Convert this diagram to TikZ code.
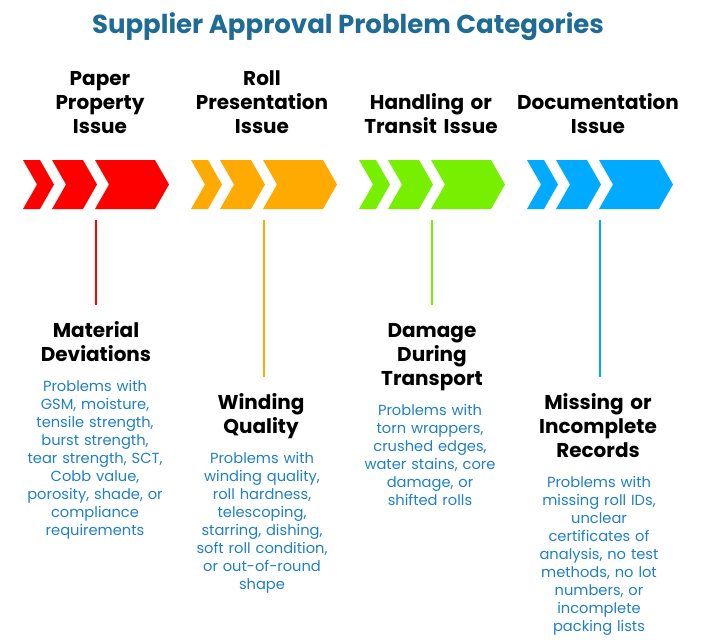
\documentclass[tikz,border=0pt]{standalone}
\usepackage{fontspec}
\setmainfont{Poppins}
\definecolor{cR}{HTML}{FF0000}
\definecolor{cO}{HTML}{FFAA00}
\definecolor{cG}{HTML}{77F000}
\definecolor{cB}{HTML}{00AAFF}
\definecolor{ttl}{HTML}{1F6B94}
\definecolor{bod}{HTML}{1F80C4}
\begin{document}
\begin{tikzpicture}[x=0.75pt,y=-0.75pt,
  hd/.style={font=\fontsize{15}{18}\selectfont\bfseries,align=center,anchor=base,text width=160pt,inner sep=0},
  bd/.style={font=\fontsize{11}{13.5}\selectfont,text=bod,align=center,anchor=base,text width=120pt,inner sep=0},
  ln/.style={line width=1.2pt}]
\useasboundingbox (0,0) rectangle (710,642);
\node[font=\fontsize{19.5}{22}\selectfont\bfseries,text=ttl,anchor=base] (title) at (348,34) {Supplier Approval Problem Categories};
\newcommand\chev[4]{\fill[#4] (#1,160) -- (#2,160) -- (#2+14,184.5) -- (#2,209) -- (#1,209) -- (#1+14,184.5) -- cycle;}
\foreach \o/\c in {0/cR,168/cO,336/cG,504/cB}{
  \chev{23+\o}{40+\o}{x}{\c}
  \chev{52+\o}{83+\o}{x}{\c}
  \chev{95+\o}{155+\o}{x}{\c}
}
% top labels
\node[hd] (t1) at (100,85) {Paper\\Property\\Issue};
\node[hd] (t2) at (262,85) {Roll\\Presentation\\Issue};
\node[hd] (t3) at (431,109) {Handling or\\Transit Issue};
\node[hd] (t4) at (598,109) {Documentation\\Issue};
% lines
\coordinate (a1) at (96,220); \coordinate (b1) at (96,305);
\coordinate (a2) at (264,220); \coordinate (b2) at (264,377);
\coordinate (a3) at (432,220); \coordinate (b3) at (432,305);
\coordinate (a4) at (600,220); \coordinate (b4) at (600,377);
\draw[ln,cR] (a1) -- (b1);
\draw[ln,cO] (a2) -- (b2);
\draw[ln,cG] (a3) -- (b3);
\draw[ln,cB] (a4) -- (b4);
% bottom headers
\node[hd] (h1) at (96,337) {Material\\Deviations};
\node[hd] (h2) at (261,409) {Winding\\Quality};
\node[hd] (h3) at (432,337) {Damage\\During\\Transport};
\node[hd] (h4) at (598,409) {Missing or\\Incomplete\\Records};
% bodies
\node[bd] (p1) at (95,391) {Problems with\\GSM, moisture,\\tensile strength,\\burst strength,\\tear strength, SCT,\\Cobb value,\\porosity, shade, or\\compliance\\requirements};
\node[bd] (p2) at (262,463) {Problems with\\winding quality,\\roll hardness,\\telescoping,\\starring, dishing,\\soft roll condition,\\or out-of-round\\shape};
\node[bd] (p3) at (430,415) {Problems with\\torn wrappers,\\crushed edges,\\water stains, core\\damage, or\\shifted rolls};
\node[bd] (p4) at (599,487) {Problems with\\missing roll IDs,\\unclear\\certificates of\\analysis, no test\\methods, no lot\\numbers, or\\incomplete\\packing lists};
\end{tikzpicture}
\end{document}
